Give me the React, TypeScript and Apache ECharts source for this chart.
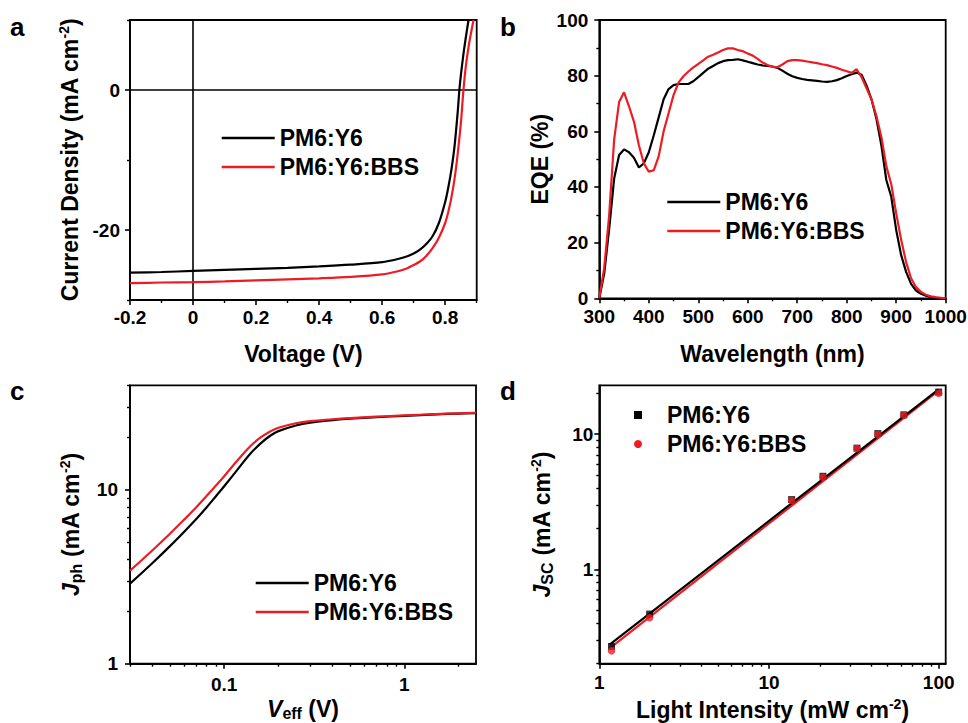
import { useEffect, useRef } from "react";
import * as echarts from "echarts";

// ---------- data ----------
const seriesNames = ["PM6:Y6", "PM6:Y6:BBS"];
const seriesColors = ["#000000", "#ed1c24"];

// (a) J–V curves [V, mA cm-2]
const jvPM6Y6: [number, number][] = [
  [-0.2, -26.1], [-0.1, -26.0], [0, -25.85], [0.1, -25.7], [0.2, -25.55], [0.3, -25.4],
  [0.4, -25.2], [0.5, -24.95], [0.6, -24.6], [0.65, -24.15], [0.68, -23.75], [0.7, -23.35],
  [0.72, -22.8], [0.74, -22.0], [0.76, -20.9], [0.78, -19.0], [0.8, -16.0], [0.81, -13.9],
  [0.82, -11.3], [0.83, -7.9], [0.84, -3.0], [0.845, 0], [0.85, 2.2], [0.86, 5.8], [0.874, 10],
];
const jvBBS: [number, number][] = [
  [-0.2, -27.6], [-0.1, -27.5], [0, -27.45], [0.1, -27.35], [0.2, -27.2], [0.3, -27.05],
  [0.4, -26.9], [0.5, -26.7], [0.6, -26.35], [0.65, -25.9], [0.68, -25.45], [0.7, -25.0],
  [0.72, -24.5], [0.74, -23.7], [0.76, -22.6], [0.78, -21.1], [0.8, -19.0], [0.81, -17.4],
  [0.82, -15.3], [0.83, -12.6], [0.84, -9.0], [0.85, -4.6], [0.858, 0], [0.865, 3.2],
  [0.875, 6.4], [0.89, 10],
];

// (b) EQE spectra
const eqeWavelength = [
  300, 310, 320, 330, 340, 350, 360, 370, 380, 390,
  400, 410, 420, 430, 440, 450, 460, 470, 480, 490,
  500, 510, 520, 530, 540, 550, 560, 570, 580, 590,
  600, 610, 620, 630, 640, 650, 660, 670, 680, 690,
  700, 710, 720, 730, 740, 750, 760, 770, 780, 790,
  800, 810, 820, 830, 840, 850, 860, 870, 880, 890,
  900, 910, 920, 930, 940, 950, 960, 970, 980, 990,
  1000,
];
const eqePM6Y6 = [
  0, 9, 25, 43, 51.5, 53.5, 52.5, 50.5, 47, 48.5,
  52.5, 58.5, 65, 71.5, 75.2, 76.6, 77, 77, 77, 78,
  79.5, 81, 82.5, 83.5, 84.5, 85.2, 85.6, 85.7, 85.9, 85.5,
  85, 84.5, 84, 83.7, 83.5, 83.3, 82.8, 81.8, 80.7, 79.8,
  79.2, 78.8, 78.5, 78.3, 78.1, 77.9, 77.8, 78, 78.4, 79.1,
  79.9, 80.5, 81.1, 80.3, 76.5, 71.5, 64.5, 55, 42.5, 36.5,
  24.5, 15.5, 9.5, 5.2, 2.8, 1.6, 0.9, 0.5, 0.2, 0.1,
  0,
];
const eqeBBS = [
  0, 11, 30, 57, 70.5, 74, 69, 63.5, 55, 48.5,
  45.5, 46, 51, 60, 66.5, 73, 77.5, 79.8, 81.5, 83,
  84.2, 85.5, 86.8, 87.5, 88.3, 89.2, 89.8, 89.8, 89.2, 88.8,
  88, 87.2, 86, 84.7, 83.8, 83.2, 83, 84, 85.2, 85.6,
  85.6, 85.4, 85.1, 84.8, 84.5, 84.1, 83.8, 83.3, 82.8, 82.1,
  81.6, 81, 82.3, 79.5, 75.5, 71.5, 65.5, 58, 47.5, 41,
  30.5, 21, 13, 7.2, 4, 2.3, 1.3, 0.7, 0.4, 0.2,
  0,
];

// (c) Jph vs Veff
const vEff = [0.03, 0.04, 0.05, 0.06, 0.07, 0.08, 0.09, 0.1, 0.12, 0.14, 0.16, 0.18, 0.2, 0.25, 0.3, 0.4, 0.5, 0.7, 1, 1.5, 2, 2.5];
const jphPM6Y6 = [2.89, 3.8, 4.75, 5.75, 6.8, 7.95, 9.2, 10.5, 13.3, 16.2, 18.6, 20.5, 21.8, 23.5, 24.4, 25.2, 25.7, 26.2, 26.7, 27.2, 27.5, 27.7];
const jphBBS = [3.43, 4.5, 5.6, 6.75, 7.95, 9.25, 10.6, 12.0, 15.0, 17.9, 20.1, 21.7, 22.8, 24.2, 24.9, 25.5, 25.9, 26.4, 26.85, 27.3, 27.6, 27.8];

// (d) Jsc vs light intensity
const lightIntensity = [1.18, 1.98, 13.6, 20.8, 33, 43.8, 62.3, 100];
const jscPM6Y6 = [0.268, 0.466, 3.28, 4.88, 7.88, 10.1, 13.9, 20.5];
const jscBBS = [0.249, 0.438, 3.23, 4.79, 7.84, 9.95, 13.8, 20.05];
const fitIntensity = [1.15, 100];
const fitPM6Y6 = [0.277, 21.5];
const fitBBS = [0.26, 21.0];

// tick values
const aXMajor = [-0.2, 0, 0.2, 0.4, 0.6, 0.8];
const aXMinor = [-0.1, 0.1, 0.3, 0.5, 0.7, 0.9];
const aYMajor = [-20, 0];
const aYMinor = [-30, -10, 10];
const bXMajor = [300, 400, 500, 600, 700, 800, 900, 1000];
const bXMinor = [350, 450, 550, 650, 750, 850, 950];
const bYMajor = [0, 20, 40, 60, 80, 100];
const bYMinor = [10, 30, 50, 70, 90];
const cXMajor = [0.1, 1];
const cXMinor = [0.03, 0.04, 0.05, 0.06, 0.07, 0.08, 0.09, 0.2, 0.3, 0.4, 0.5, 0.6, 0.7, 0.8, 0.9, 2];
const cYMajor = [1, 10];
const cYMinor = [2, 3, 4, 5, 6, 7, 8, 9, 20, 30, 40];
const dXMajor = [1, 10, 100];
const dXMinor = [2, 3, 4, 5, 6, 7, 8, 9, 20, 30, 40, 50, 60, 70, 80, 90];
const dYMajor = [1, 10];
const dYMinor = [0.2, 0.3, 0.4, 0.5, 0.6, 0.7, 0.8, 0.9, 2, 3, 4, 5, 6, 7, 8, 9, 20];

// ---------- styling helpers ----------
const FONT = '"Liberation Sans", Arial, Helvetica, sans-serif';
const BLACK = "#000000";

const RICH = {
  sup: { fontFamily: FONT, fontWeight: "bold", fontSize: 14, lineHeight: 14, verticalAlign: "top", color: BLACK },
  sub: { fontFamily: FONT, fontWeight: "bold", fontSize: 16, lineHeight: 16, verticalAlign: "bottom", color: BLACK },
  it: { fontFamily: FONT, fontWeight: "bold", fontStyle: "italic", fontSize: 23, lineHeight: 26, color: BLACK },
};

const nameTextStyle = {
  color: BLACK,
  fontFamily: FONT,
  fontWeight: "bold",
  fontSize: 23,
  lineHeight: 26,
  rich: RICH,
};

const plainNumber = (v: number) => String(+Number(v).toPrecision(6));

function mainAxis(
  kind: "x" | "y",
  gridIndex: number,
  type: "value" | "log",
  min: number,
  max: number,
  major: number[],
  name: string,
  nameGap: number,
  labelMargin: number,
  interval?: number
) {
  const ax: any = {
    type,
    gridIndex,
    min,
    max,
    position: kind === "x" ? "bottom" : "left",
    name,
    nameLocation: "middle",
    nameGap,
    nameTextStyle,
    axisLine: { show: true, onZero: false, lineStyle: { color: BLACK, width: 1.8 } },
    axisTick: { show: true, inside: false, length: 5, customValues: major, lineStyle: { color: BLACK, width: 1.6 } },
    axisLabel: {
      show: true,
      customValues: major,
      margin: labelMargin,
      color: BLACK,
      fontFamily: FONT,
      fontWeight: "bold",
      fontSize: 19,
      formatter: plainNumber,
    },
    splitLine: { show: false },
    minorTick: { show: false },
    minorSplitLine: { show: false },
  };
  if (type === "log") ax.logBase = 10;
  if (interval !== undefined) ax.interval = interval;
  return ax;
}

function minorAxis(kind: "x" | "y", gridIndex: number, type: "value" | "log", min: number, max: number, minor: number[]) {
  const ax: any = {
    type,
    gridIndex,
    min,
    max,
    position: kind === "x" ? "bottom" : "left",
    axisLine: { show: false, onZero: false },
    axisTick: { show: true, inside: false, length: 3, customValues: minor, lineStyle: { color: BLACK, width: 1.4 } },
    axisLabel: { show: false },
    splitLine: { show: false },
    silent: true,
  };
  if (type === "log") ax.logBase = 10;
  return ax;
}

const legendText = { color: BLACK, fontFamily: FONT, fontWeight: "bold", fontSize: 23, lineHeight: 26 };

function lineLegend(left: number, top: number) {
  return {
    orient: "vertical",
    left,
    top,
    itemWidth: 53,
    itemHeight: 2.5,
    itemGap: 3,
    selectedMode: false,
    itemStyle: { borderWidth: 0 },
    data: seriesNames.map((n) => ({ name: n, icon: "rect" })),
    textStyle: legendText,
  };
}

function zip(xs: number[], ys: number[]) {
  return xs.map((x, i) => [x, ys[i]]);
}

function lineSeries(name: string, color: string, data: any[], xi: number, smooth: number | boolean) {
  return {
    type: "line",
    name,
    xAxisIndex: xi,
    yAxisIndex: xi,
    data,
    symbol: "none",
    smooth,
    lineStyle: { color, width: 2.2 },
    itemStyle: { color },
    z: 3,
  };
}

export default function App() {
  const ref = useRef<HTMLDivElement>(null);

  useEffect(() => {
    if (!ref.current) return;
    const chart = echarts.init(ref.current, undefined, { renderer: "svg" });

    const grids = [
      { left: 130, top: 20, width: 346.7, height: 280 },
      { left: 599.3, top: 20, width: 346.4, height: 278.3 },
      { left: 130, top: 385.3, width: 346, height: 278.4 },
      { left: 599.3, top: 385.3, width: 346.4, height: 278.4 },
    ].map((g) => ({
      ...g,
      show: true,
      borderColor: BLACK,
      borderWidth: 1.8,
      backgroundColor: "transparent",
      containLabel: false,
      outerBoundsMode: "none",
    }));

    const option: any = {
      animation: false,
      backgroundColor: "#ffffff",
      grid: grids,
      xAxis: [
        mainAxis("x", 0, "value", -0.2, 0.9, aXMajor, "Voltage (V)", 41, 8, 0.1),
        mainAxis("x", 1, "value", 300, 1000, bXMajor, "Wavelength (nm)", 43, 9, 100),
        mainAxis("x", 2, "log", 0.03, 2.5, cXMajor, "{it|V}{sub|eff} (V)", 32, 11),
        mainAxis("x", 3, "log", 1, 110, dXMajor, "Light Intensity (mW cm{sup|-2})", 33, 9),
        minorAxis("x", 0, "value", -0.2, 0.9, aXMinor),
        minorAxis("x", 1, "value", 300, 1000, bXMinor),
        minorAxis("x", 2, "log", 0.03, 2.5, cXMinor),
        minorAxis("x", 3, "log", 1, 110, dXMinor),
      ],
      yAxis: [
        mainAxis("y", 0, "value", -30, 10, aYMajor, "Current Density (mA cm{sup|-2})", 47, 10, 10),
        mainAxis("y", 1, "value", 0, 100, bYMajor, "EQE (%)", 44, 11, 20),
        mainAxis("y", 2, "log", 1, 40, cYMajor, "{it|J}{sub|ph} (mA cm{sup|-2})", 46, 12),
        mainAxis("y", 3, "log", 0.2, 23, dYMajor, "{it|J}{sub|SC} (mA cm{sup|-2})", 44, 6),
        minorAxis("y", 0, "value", -30, 10, aYMinor),
        minorAxis("y", 1, "value", 0, 100, bYMinor),
        minorAxis("y", 2, "log", 1, 40, cYMinor),
        minorAxis("y", 3, "log", 0.2, 23, dYMinor),
      ],
      legend: [
        lineLegend(216.7, 120),
        lineLegend(662.3, 184),
        lineLegend(250.7, 565),
        {
          orient: "vertical",
          left: 629,
          top: 397,
          itemWidth: 8,
          itemHeight: 8,
          itemGap: 3,
          selectedMode: false,
          itemStyle: { borderWidth: 0 },
          data: [
            { name: seriesNames[0], icon: "rect" },
            { name: seriesNames[1], icon: "circle" },
          ],
          textStyle: { ...legendText, padding: [0, 0, 0, 20] },
        },
      ],
      graphic: [
        { type: "text", left: 10, top: 14, style: { text: "a", font: `bold 26px ${FONT}`, fill: BLACK } },
        { type: "text", left: 500, top: 14, style: { text: "b", font: `bold 26px ${FONT}`, fill: BLACK } },
        { type: "text", left: 10, top: 378, style: { text: "c", font: `bold 26px ${FONT}`, fill: BLACK } },
        { type: "text", left: 500, top: 378, style: { text: "d", font: `bold 26px ${FONT}`, fill: BLACK } },
      ],
      series: [
        {
          ...lineSeries(seriesNames[0], seriesColors[0], jvPM6Y6, 0, 0.3),
          markLine: {
            silent: true,
            symbol: ["none", "none"],
            label: { show: false },
            lineStyle: { color: BLACK, width: 1.6, type: "solid" },
            data: [{ xAxis: 0 }, { yAxis: 0 }],
            z: 1,
          },
        },
        lineSeries(seriesNames[1], seriesColors[1], jvBBS, 0, 0.3),
        lineSeries(seriesNames[0], seriesColors[0], zip(eqeWavelength, eqePM6Y6), 1, false),
        lineSeries(seriesNames[1], seriesColors[1], zip(eqeWavelength, eqeBBS), 1, false),
        lineSeries(seriesNames[0], seriesColors[0], zip(vEff, jphPM6Y6), 2, 0.4),
        lineSeries(seriesNames[1], seriesColors[1], zip(vEff, jphBBS), 2, 0.4),
        lineSeries("PM6:Y6:BBS fit", seriesColors[1], zip(fitIntensity, fitBBS), 3, false),
        lineSeries("PM6:Y6 fit", seriesColors[0], zip(fitIntensity, fitPM6Y6), 3, false),
        {
          type: "scatter",
          name: seriesNames[0],
          xAxisIndex: 3,
          yAxisIndex: 3,
          data: zip(lightIntensity, jscPM6Y6),
          symbol: "rect",
          symbolSize: 7,
          itemStyle: { color: seriesColors[0] },
          z: 4,
        },
        {
          type: "scatter",
          name: seriesNames[1],
          xAxisIndex: 3,
          yAxisIndex: 3,
          data: zip(lightIntensity, jscBBS),
          symbol: "circle",
          symbolSize: 7.5,
          itemStyle: { color: seriesColors[1] },
          z: 5,
        },
      ],
    };

    chart.setOption(option);
    return () => chart.dispose();
  }, []);

  return (
    <div
      ref={ref}
      style={{ position: "fixed", left: 0, top: 0, width: 968, height: 723, background: "#fff" }}
    />
  );
}
